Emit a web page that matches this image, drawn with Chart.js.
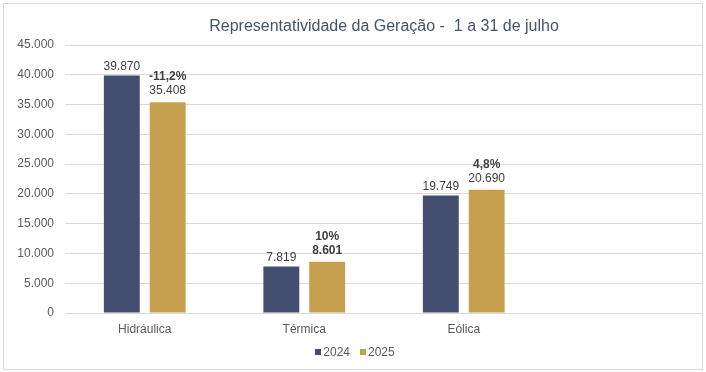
<!DOCTYPE html>
<html>
<head>
<meta charset="utf-8">
<script src="https://cdn.jsdelivr.net/npm/chart.js@4"></script>
<style>
  html, body { margin: 0; padding: 0; background: #fff; }
  #wrap { width: 706px; height: 372px; position: relative; }
</style>
</head>
<body>
<div id="wrap"><canvas id="chart" width="706" height="372"></canvas></div>
<script>
const TITEL = 'Representatividade da Geração -  1 a 31 de julho';
const categorias = ['Hidráulica', 'Térmica', 'Eólica', ''];
const jaren = ['2024', '2025'];
const geracao2024 = [39870, 7819, 19749, null];
const geracao2025 = [35408, 8601, 20690, null];
const variacao = ['-11,2%', '10%', '4,8%', null];
const yTicks = [0, 5000, 10000, 15000, 20000, 25000, 30000, 35000, 40000, 45000];

const fmt = v => String(v).replace(/\B(?=(\d{3})+(?!\d))/g, '.');
const FONT = '"Liberation Sans", Arial, sans-serif';

const kaderPlugin = {
  id: 'kader',
  beforeDraw(c) {
    const ctx = c.ctx;
    ctx.save();
    ctx.fillStyle = '#fff';
    ctx.fillRect(0, 0, c.width, c.height);
    ctx.strokeStyle = '#d9d9d9';
    ctx.lineWidth = 1;
    ctx.strokeRect(3.5, 3.5, 699, 366);
    ctx.restore();
  },
  afterDraw(c) {
    const ctx = c.ctx, a = c.chartArea;
    ctx.save();
    ctx.font = '16px ' + FONT;
    ctx.fillStyle = '#44546a';
    ctx.textAlign = 'center';
    ctx.textBaseline = 'middle';
    ctx.fillText(TITEL, (a.left + a.right) / 2, 27);

    // Legenda onderaan, compact zoals in Excel (klein blokje, tekst er vlak naast).
    ctx.font = '12px ' + FONT;
    ctx.textAlign = 'left';
    const box = 6, gap = 2, tussen = 10, y = 352;
    const items = c.data.datasets.map(ds => ({ tekst: ds.label, kleur: ds.backgroundColor, w: ctx.measureText(ds.label).width }));
    const totaal = items.reduce((s, it) => s + box + gap + it.w, 0) + tussen * (items.length - 1);
    let x = 355 - totaal / 2;
    items.forEach(it => {
      ctx.fillStyle = it.kleur;
      ctx.fillRect(Math.round(x), y - 3, box, box);
      ctx.fillStyle = '#595959';
      ctx.fillText(it.tekst, x + box + gap, y + 1);
      x += box + gap + it.w + tussen;
    });
    ctx.restore();
  }
};

// Waardelabels boven de staven, plus variatie boven 2025.
const labelPlugin = {
  id: 'labels',
  afterDatasetsDraw(c) {
    const ctx = c.ctx;
    ctx.save();
    ctx.textAlign = 'center';
    ctx.textBaseline = 'middle';
    ctx.fillStyle = '#404040';
    c.data.datasets.forEach((ds, di) => {
      c.getDatasetMeta(di).data.forEach((bar, i) => {
        const v = ds.data[i];
        if (v == null) return;
        const vetWaarde = di === 1 && i === 1;
        ctx.font = (vetWaarde ? 'bold ' : '') + '12px ' + FONT;
        const yWaarde = bar.y - (di === 0 ? 9 : 11);
        ctx.fillText(fmt(v), bar.x, yWaarde);
        if (di === 1 && variacao[i]) {
          ctx.font = 'bold 12px ' + FONT;
          ctx.fillText(variacao[i], bar.x, yWaarde - 14);
        }
      });
    });
    ctx.restore();
  }
};

new Chart(document.getElementById('chart'), {
  type: 'bar',
  plugins: [kaderPlugin, labelPlugin],
  data: {
    labels: categorias,
    datasets: [
      { label: jaren[0], data: geracao2024, backgroundColor: '#434e70' },
      { label: jaren[1], data: geracao2025, backgroundColor: '#c7a04f' }
    ]
  },
  options: {
    responsive: false,
    animation: false,
    devicePixelRatio: 1,
    layout: { padding: { top: 45, left: 0, right: 3, bottom: 34.6 } },
    datasets: { bar: { categoryPercentage: 0.575, barPercentage: 0.783 } },
    plugins: {
      title: { display: false },
      tooltip: { enabled: false },
      legend: { display: false }
    },
    scales: {
      x: {
        grid: { display: false },
        border: { display: false },
        ticks: { color: '#595959', font: { size: 12, family: FONT }, padding: 1, maxRotation: 0 }
      },
      y: {
        min: 0, max: 45000,
        afterBuildTicks: s => { s.ticks = yTicks.map(v => ({ value: v })); },
        afterFit: s => { s.width = 65; },
        grid: { color: '#d9d9d9', drawTicks: false },
        border: { display: false },
        ticks: { color: '#595959', font: { size: 12, family: FONT }, padding: 11, autoSkip: false, callback: v => fmt(v) }
      }
    }
  }
});
</script>
</body>
</html>
